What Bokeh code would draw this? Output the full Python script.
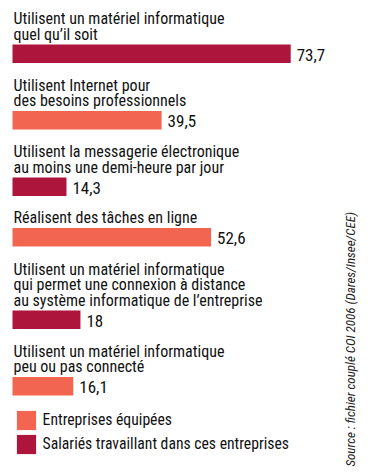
from bokeh.plotting import figure
from bokeh.models import ColumnDataSource, Range1d, Legend, LegendItem
from bokeh.core.properties import value
from bokeh.embed import file_html
from bokeh.resources import INLINE
import math

# ---- data ----
categories = [
    "Utilisent un matériel informatique\nquel qu’il soit",
    "Utilisent Internet pour\ndes besoins professionnels",
    "Utilisent la messagerie électronique\nau moins une demi-heure par jour",
    "Réalisent des tâches en ligne",
    "Utilisent un matériel informatique\nqui permet une connexion à distance\nau système informatique de l’entreprise",
    "Utilisent un matériel informatique\npeu ou pas connecté",
]
values = [73.7, 39.5, 14.3, 52.6, 18, 16.1]
series = ["Salariés travaillant dans ces entreprises", "Entreprises équipées",
          "Salariés travaillant dans ces entreprises", "Entreprises équipées",
          "Salariés travaillant dans ces entreprises", "Entreprises équipées"]
legend_order = ["Entreprises équipées", "Salariés travaillant dans ces entreprises"]
source_text = "Source : fichier couplé COI 2006 (Dares/Insee/CEE)"

# ---- style ----
colors = {"Entreprises équipées": "#F26550",
          "Salariés travaillant dans ces entreprises": "#AD153D"}
FONT = "Roboto Condensed"
TXT = "#111111"

W, H = 362, 467
px_per_unit = 3.775
zero_px = 12.0
x_start = -zero_px / px_per_unit
x_end = (W - zero_px) / px_per_unit

p = figure(width=W, height=H, output_backend="svg", toolbar_location=None,
           x_range=Range1d(x_start, x_end), y_range=Range1d(H, 0),
           min_border=0, outline_line_color=None)
p.axis.visible = False
p.grid.visible = False
p.background_fill_color = "white"
p.border_fill_color = "white"

# vertical layout (frame px)
first_top = 44.0
group_base = 34.5
line_h = 16.0
bar_h = 18.5
tops = []
t = first_top
for i, c in enumerate(categories):
    n = len(c.split("\n"))
    if i > 0:
        t = t + group_base + line_h * n
    tops.append(t)

lab_x, lab_y, lab_t = [], [], []
for c, top in zip(categories, tops):
    lines = c.split("\n")
    n = len(lines)
    for k, ln in enumerate(lines):
        lab_x.append(0)
        lab_y.append(top - 10.5 - 15.5 * (n - 1 - k))
        lab_t.append(ln)

renderers = {}
for s in legend_order:
    idx = [i for i in range(len(values)) if series[i] == s]
    src = ColumnDataSource(dict(
        y=[tops[i] + bar_h / 2 for i in idx],
        v=[values[i] for i in idx],
    ))
    renderers[s] = p.hbar(y="y", left=0, right="v", height=bar_h, source=src,
                          fill_color=colors[s], line_color=None)

p.text(x=lab_x, y=lab_y, text=lab_t, text_font=value(FONT), text_font_size="16px",
       text_color=TXT, text_baseline="alphabetic", text_align="left", x_offset=1)

vsrc = ColumnDataSource(dict(
    x=values,
    y=[tp + bar_h / 2 + 1 for tp in tops],
    t=[("%g" % v).replace(".", ",") for v in values],
))
p.text(x="x", y="y", text="t", source=vsrc, text_font=value(FONT), text_font_size="17px",
       text_color=TXT, text_baseline="middle", text_align="left", x_offset=6)

# vertical source
p.text(x=[x_end], y=[H - 1], text=[source_text], angle=math.pi / 2,
       text_font=value(FONT), text_font_style="italic", text_font_size="13px",
       text_color="#222222", text_baseline="middle", text_align="left", x_offset=-12)

legend = Legend(items=[LegendItem(label=s, renderers=[renderers[s]]) for s in legend_order],
                location=(13.6, H - 455.6), orientation="vertical",
                glyph_width=24, glyph_height=24, spacing=0, padding=0, margin=0,
                label_standoff=5, label_text_font=FONT, label_text_font_size="15.7px",
                label_text_color=TXT, border_line_color=None, background_fill_alpha=0,
                label_height=24)
p.add_layout(legend, "center")

open("out.html", "w").write(file_html(p, INLINE))
